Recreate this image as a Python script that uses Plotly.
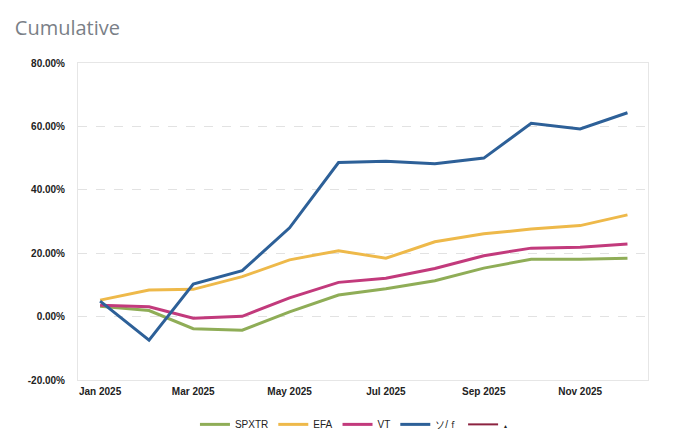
import plotly.graph_objects as go

months = ["2025-01-01", "2025-02-01", "2025-03-01", "2025-04-01", "2025-05-01", "2025-06-01",
          "2025-07-01", "2025-08-01", "2025-09-01", "2025-10-01", "2025-11-01", "2025-12-01"]

spxtr = [3.3, 1.9, -3.8, -4.3, 1.5, 6.8, 8.8, 11.3, 15.3, 18.1, 18.1, 18.4]
efa = [5.2, 8.4, 8.6, 12.6, 17.9, 20.8, 18.4, 23.6, 26.1, 27.6, 28.7, 32.1]
vt = [3.6, 3.1, -0.5, 0.1, 5.9, 10.8, 12.1, 15.2, 19.2, 21.6, 21.9, 22.9]
blue = [4.9, -7.4, 10.3, 14.5, 28.0, 48.6, 49.0, 48.2, 50.0, 61.0, 59.2, 64.3]

series_names = ["SPXTR", "EFA", "VT", "ソ/ｆ"]
colors = ["#8fad57", "#eeb94a", "#c23a7c", "#2d6098"]

tick_vals = [-20, 0, 20, 40, 60, 80]
tick_text = ["-20.00%", "0.00%", "20.00%", "40.00%", "60.00%", "80.00%"]

fig = go.Figure()
for name, vals, col in zip(series_names, [spxtr, efa, vt, blue], colors):
    fig.add_trace(go.Scatter(x=months, y=vals, name=name, mode="lines",
                             line=dict(color=col, width=3)))
# redacted fifth legend entry
fig.add_trace(go.Scatter(x=[None], y=[None], name="<span style='font-size:5px'>▲</span>",
                         mode="lines", line=dict(color="#8c2340", width=2)))

# page body has an 8px margin, so the figure is sized to fit the 689x436 window
fig.update_layout(
    width=681, height=428,
    margin=dict(l=70, r=41, t=55, b=56, autoexpand=False),
    paper_bgcolor="white", plot_bgcolor="white",
    title=dict(text="Cumulative", xref="container", yref="container", x=0.010, xanchor="left",
               y=0.953, yanchor="middle",
               font=dict(family="Open Sans", size=20, color="#7a7f87")),
    font=dict(family="Liberation Sans", size=10, color="#222"),
    showlegend=True,
    legend=dict(orientation="h", x=0.485, xanchor="center", y=-0.14, yanchor="middle",
                font=dict(size=10, color="#222"), tracegroupgap=0, itemwidth=30),
    xaxis=dict(type="date", range=["2024-12-18", "2025-12-14"],
               tickvals=["2025-01-01", "2025-03-01", "2025-05-01", "2025-07-01", "2025-09-01", "2025-11-01"],
               ticktext=["<b>Jan 2025</b>", "<b>Mar 2025</b>", "<b>May 2025</b>", "<b>Jul 2025</b>", "<b>Sep 2025</b>", "<b>Nov 2025</b>"],
               showgrid=False, zeroline=False, showline=True, linecolor="#e6e6e6", linewidth=1,
               mirror=True, ticks="", ticklabelstandoff=2),
    yaxis=dict(range=[-20, 80], tickvals=tick_vals,
               ticktext=["<b>" + t + "</b>" for t in tick_text],
               showgrid=True, gridcolor="#e2e2e2", griddash="dash", gridwidth=1,
               zeroline=False, showline=True, linecolor="#e6e6e6", linewidth=1, mirror=True,
               ticks="", ticklabelstandoff=10),
)

fig.write_html("out.html")
